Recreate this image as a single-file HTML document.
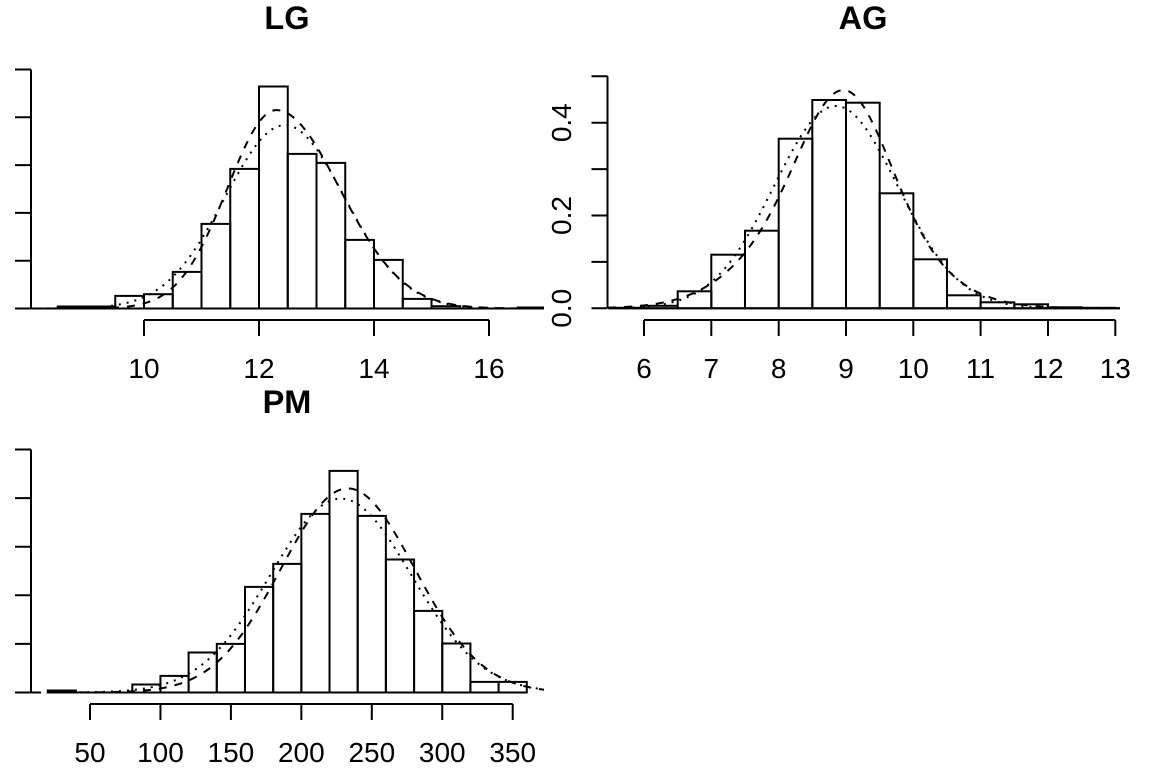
<!DOCTYPE html>
<html>
<head>
<meta charset="utf-8">
<style>
  html, body { margin: 0; padding: 0; background: #fff; }
  svg { display: block; }
  text { font-family: "Liberation Sans", Arial, sans-serif; fill: #000; }
  .lab { font-size: 28px; }
  .ttl { font-size: 32.5px; font-weight: bold; }
</style>
</head>
<body>
<svg id="s" width="1152" height="768" viewBox="0 0 1152 768" xmlns="http://www.w3.org/2000/svg">
  <rect x="0" y="0" width="1152" height="768" fill="#fff"/>
  <defs>
    <clipPath id="cLG"><rect x="31" y="0" width="513" height="330"/></clipPath>
    <clipPath id="cAG"><rect x="607" y="0" width="513" height="330"/></clipPath>
    <clipPath id="cPM"><rect x="31" y="384" width="513" height="330"/></clipPath>
  </defs>

  <!-- ===== LG ===== -->
  <g stroke="#000" stroke-width="2" fill="none" clip-path="url(#cLG)">
    <path d="M31 308.5 H544"/>
    <rect x="57.75" y="306.5" width="28.75" height="2"/>
    <rect x="86.5" y="306.5" width="28.75" height="2"/>
    <rect x="115.25" y="295.9" width="28.75" height="12.6"/>
    <rect x="144" y="294.2" width="28.75" height="14.3"/>
    <rect x="172.75" y="271.9" width="28.75" height="36.6"/>
    <rect x="201.5" y="223.9" width="28.75" height="84.6"/>
    <rect x="230.25" y="168.9" width="28.75" height="139.6"/>
    <rect x="259" y="86.5" width="28.75" height="222"/>
    <rect x="287.75" y="153.9" width="28.75" height="154.6"/>
    <rect x="316.5" y="162.9" width="28.75" height="145.6"/>
    <rect x="345.25" y="239.9" width="28.75" height="68.6"/>
    <rect x="374" y="259.9" width="28.75" height="48.6"/>
    <rect x="402.75" y="298.9" width="28.75" height="9.6"/>
    <rect x="431.5" y="306.2" width="28.75" height="2.3"/>
    <rect x="517.75" y="307.5" width="28.75" height="1"/>
    <path id="lgDash" stroke-dasharray="8,8"/>
    <path id="lgDot" stroke-dasharray="2,6"/>
  </g>
  <g stroke="#000" stroke-width="2" fill="none">
    <path d="M31 69.5 V308.5 M15 69.5 H31 M15 117.3 H31 M15 165.1 H31 M15 212.9 H31 M15 260.7 H31 M15 308.5 H31"/>
    <path d="M144 320 H489 M144 320 V336 M259 320 V336 M374 320 V336 M489 320 V336"/>
  </g>
  <text class="ttl" x="287" y="29" text-anchor="middle">LG</text>
  <g class="lab" text-anchor="middle">
    <text x="144" y="378">10</text>
    <text x="259" y="378">12</text>
    <text x="374" y="378">14</text>
    <text x="489" y="378">16</text>
  </g>

  <!-- ===== AG ===== -->
  <g stroke="#000" stroke-width="2" fill="none" clip-path="url(#cAG)">
    <path d="M608 308.3 H1120"/>
    <rect x="610.3" y="307.8" width="33.67" height="0.5"/>
    <rect x="644" y="305.8" width="33.67" height="2.5"/>
    <rect x="677.7" y="291.3" width="33.67" height="17"/>
    <rect x="711.3" y="254.7" width="33.67" height="53.6"/>
    <rect x="745" y="230.7" width="33.67" height="77.6"/>
    <rect x="778.7" y="138.7" width="33.67" height="169.6"/>
    <rect x="812.3" y="100" width="33.67" height="208.3"/>
    <rect x="846" y="102.7" width="33.67" height="205.6"/>
    <rect x="879.7" y="193.3" width="33.67" height="115"/>
    <rect x="913.3" y="259.3" width="33.67" height="49"/>
    <rect x="947" y="295.3" width="33.67" height="13"/>
    <rect x="980.6" y="302.3" width="33.67" height="6"/>
    <rect x="1014.3" y="304.3" width="33.67" height="4"/>
    <rect x="1048" y="307.3" width="33.67" height="1"/>
    <rect x="1081.6" y="307.8" width="33.67" height="0.5"/>
    <path id="agDash" stroke-dasharray="8,8"/>
    <path id="agDot" stroke-dasharray="2,6"/>
  </g>
  <g stroke="#000" stroke-width="2" fill="none">
    <path d="M607.5 76.3 V308.3 M591.5 76.3 H607.5 M591.5 122.7 H607.5 M591.5 169.1 H607.5 M591.5 215.5 H607.5 M591.5 261.9 H607.5 M591.5 308.3 H607.5"/>
    <path d="M644 320 H1115.3 M644 320 V336 M711.3 320 V336 M778.7 320 V336 M846 320 V336 M913.3 320 V336 M980.6 320 V336 M1048 320 V336 M1115.3 320 V336"/>
  </g>
  <text class="ttl" x="863" y="29" text-anchor="middle">AG</text>
  <g class="lab" text-anchor="middle">
    <text x="644" y="378">6</text>
    <text x="711.3" y="378">7</text>
    <text x="778.7" y="378">8</text>
    <text x="846" y="378">9</text>
    <text x="913.3" y="378">10</text>
    <text x="980.6" y="378">11</text>
    <text x="1048" y="378">12</text>
    <text x="1115.3" y="378">13</text>
    <text x="571" y="308.3" transform="rotate(-90 571 308.3)">0.0</text>
    <text x="571" y="215.5" transform="rotate(-90 571 215.5)">0.2</text>
    <text x="571" y="122.7" transform="rotate(-90 571 122.7)">0.4</text>
  </g>

  <!-- ===== PM ===== -->
  <g stroke="#000" stroke-width="2" fill="none" clip-path="url(#cPM)">
    <path d="M47.7 692.5 H526.8"/>
    <rect x="47.7" y="690.5" width="28.17" height="2"/>
    <rect x="132.3" y="684.5" width="28.17" height="8"/>
    <rect x="160.45" y="675.9" width="28.17" height="16.6"/>
    <rect x="188.6" y="652.5" width="28.17" height="40"/>
    <rect x="216.8" y="643.9" width="28.17" height="48.6"/>
    <rect x="245" y="586.9" width="28.17" height="105.6"/>
    <rect x="273.2" y="563.9" width="28.17" height="128.6"/>
    <rect x="301.35" y="513.9" width="28.17" height="178.6"/>
    <rect x="329.5" y="470.9" width="28.17" height="221.6"/>
    <rect x="357.7" y="515.9" width="28.17" height="176.6"/>
    <rect x="385.9" y="559.5" width="28.17" height="133"/>
    <rect x="414.1" y="610.9" width="28.17" height="81.6"/>
    <rect x="442.25" y="643.5" width="28.17" height="49"/>
    <rect x="470.4" y="681.9" width="28.17" height="10.6"/>
    <rect x="498.6" y="681.9" width="28.17" height="10.6"/>
    <path id="pmDash" stroke-dasharray="8,8"/>
    <path id="pmDot" stroke-dasharray="2,6"/>
  </g>
  <g stroke="#000" stroke-width="2" fill="none">
    <path d="M31 449.5 V692.5 M15 449.5 H31 M15 498.1 H31 M15 546.7 H31 M15 595.3 H31 M15 643.9 H31 M15 692.5 H31"/>
    <path d="M90 704 H512.7 M90 704 V720 M160.45 704 V720 M230.9 704 V720 M301.35 704 V720 M371.8 704 V720 M442.25 704 V720 M512.7 704 V720"/>
  </g>
  <text class="ttl" x="287" y="413" text-anchor="middle">PM</text>
  <g class="lab" text-anchor="middle">
    <text x="90" y="762">50</text>
    <text x="160.45" y="762">100</text>
    <text x="230.9" y="762">150</text>
    <text x="301.35" y="762">200</text>
    <text x="371.8" y="762">250</text>
    <text x="442.25" y="762">300</text>
    <text x="512.7" y="762">350</text>
  </g>
</svg>
<script>
(function(){
  function N(v,m,s){var z=(v-m)/s;return Math.exp(-0.5*z*z)/(s*2.5066283);}
  function build(id,x0,x1,xToV,f,yBase,scale){
    var d="",n=300;
    for(var i=0;i<=n;i++){
      var x=x0+(x1-x0)*i/n, v=xToV(x), y=yBase-scale*f(v);
      d+=(i?"L":"M")+x.toFixed(2)+" "+y.toFixed(2);
    }
    document.getElementById(id).setAttribute("d",d);
  }
  var lgV=function(x){return 10+(x-144)/57.5;};
  build("lgDot",31,544,lgV,function(v){return N(v,12.45,1.04);},308.5,478);
  build("lgDash",31,544,lgV,function(v){var m=12.3,s=v<m?0.85:1.1,z=(v-m)/s;return 0.415*Math.exp(-0.5*z*z);},308.5,478);
  var agV=function(x){return 6+(x-644)/67.33;};
  build("agDot",608,1120,agV,function(v){return N(v,8.85,0.915);},308.3,464);
  build("agDash",608,1120,agV,function(v){return 0.35*N(v,9.0,0.62)+0.65*N(v,8.85,1.05);},308.3,464);
  var pmV=function(x){return 50+(x-90)/1.409;};
  build("pmDot",31,544,pmV,function(v){return N(v,228,50);},692.5,24300);
  build("pmDash",31,544,pmV,function(v){return N(v,233,47.5);},692.5,24300);
})();
</script>
</body>
</html>
